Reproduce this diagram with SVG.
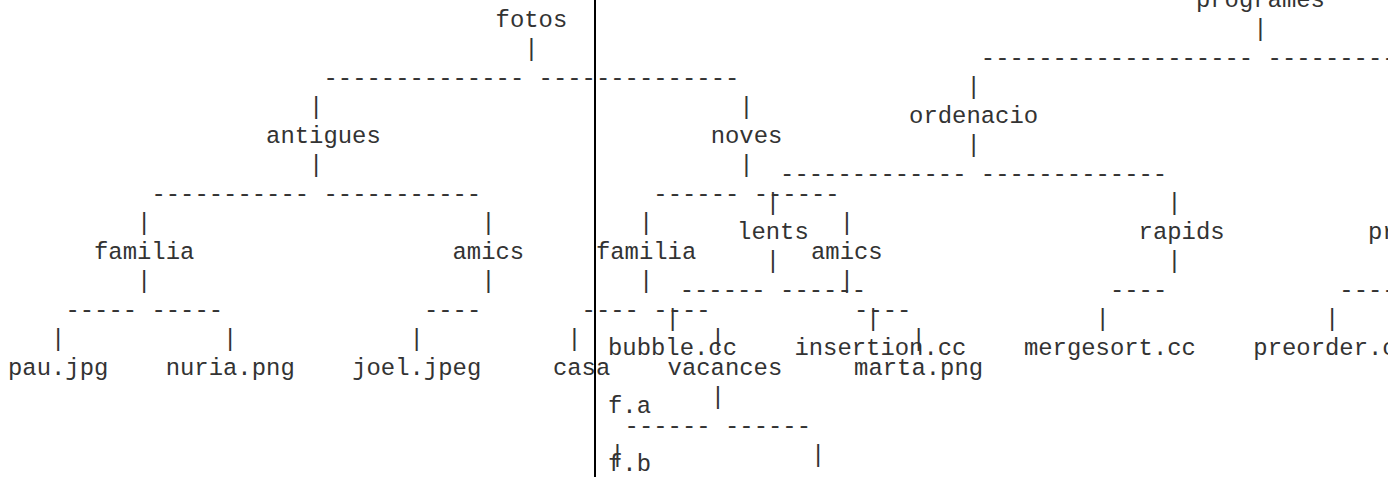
<svg xmlns="http://www.w3.org/2000/svg" width="1388" height="477" viewBox="0 0 1388 477">
<style>
text { font-family: "Liberation Mono", "Courier New", monospace; font-size: 23.9px; fill: #333333; }
</style>
<rect x="0" y="0" width="1388" height="477" fill="#ffffff"/>
<rect id="divider" x="594" y="0" width="2" height="477" fill="#000000"/>
<g id="connectors">
  <text x="524.2" y="56">|</text>
  <text x="323.5" y="85">--------------</text>
  <text x="538.6" y="85">--------------</text>
  <text x="309.1" y="114">|</text>
  <text x="739.3" y="114">|</text>
  <text x="309.1" y="172">|</text>
  <text x="739.3" y="172">|</text>
  <text x="151.4" y="201">-----------</text>
  <text x="323.5" y="201">-----------</text>
  <text x="653.3" y="201">------</text>
  <text x="753.7" y="201">------</text>
  <text x="137.1" y="230">|</text>
  <text x="481.2" y="230">|</text>
  <text x="639.0" y="230">|</text>
  <text x="839.7" y="230">|</text>
  <text x="137.1" y="288">|</text>
  <text x="481.2" y="288">|</text>
  <text x="639.0" y="288">|</text>
  <text x="839.7" y="288">|</text>
  <text x="65.4" y="317">-----</text>
  <text x="151.4" y="317">-----</text>
  <text x="423.9" y="317">----</text>
  <text x="581.6" y="317">----</text>
  <text x="653.3" y="317">----</text>
  <text x="854.1" y="317">----</text>
  <text x="51.0" y="346">|</text>
  <text x="223.1" y="346">|</text>
  <text x="409.5" y="346">|</text>
  <text x="567.3" y="346">|</text>
  <text x="710.7" y="346">|</text>
  <text x="911.4" y="346">|</text>
  <text x="710.7" y="404">|</text>
  <text x="624.6" y="433">------</text>
  <text x="725.0" y="433">------</text>
  <text x="610.3" y="462">|</text>
  <text x="811.0" y="462">|</text>
  <text x="1253.3" y="36">|</text>
  <text x="980.8" y="65">-------------------</text>
  <text x="1267.6" y="65">---------</text>
  <text x="966.5" y="94">|</text>
  <text x="966.5" y="152">|</text>
  <text x="780.1" y="181">-------------</text>
  <text x="980.8" y="181">-------------</text>
  <text x="765.7" y="210">|</text>
  <text x="1167.3" y="210">|</text>
  <text x="765.7" y="268">|</text>
  <text x="1167.3" y="268">|</text>
  <text x="679.7" y="297">------</text>
  <text x="780.1" y="297">------</text>
  <text x="1109.9" y="297">----</text>
  <text x="1339.3" y="297">----</text>
  <text x="665.4" y="326">|</text>
  <text x="866.1" y="326">|</text>
  <text x="1095.6" y="326">|</text>
  <text x="1325.0" y="326">|</text>
</g>
<g id="node-fotos"><text x="495.6" y="27">fotos</text></g>
<g id="node-antigues"><text x="266.1" y="143">antigues</text></g>
<g id="node-noves"><text x="710.7" y="143">noves</text></g>
<g id="node-antigues-familia"><text x="94.0" y="259">familia</text></g>
<g id="node-antigues-amics"><text x="452.5" y="259">amics</text></g>
<g id="node-noves-familia"><text x="595.9" y="259">familia</text></g>
<g id="node-noves-amics"><text x="811.0" y="259">amics</text></g>
<g id="node-pau"><text x="8" y="375">pau.jpg</text></g>
<g id="node-nuria"><text x="165.7" y="375">nuria.png</text></g>
<g id="node-joel"><text x="352.2" y="375">joel.jpeg</text></g>
<g id="node-casa"><text x="552.9" y="375">casa</text></g>
<g id="node-vacances"><text x="667.6" y="375">vacances</text></g>
<g id="node-marta"><text x="854.1" y="375">marta.png</text></g>
<g id="node-programes"><text x="1195.9" y="7">programes</text></g>
<g id="node-ordenacio"><text x="909.1" y="123">ordenacio</text></g>
<g id="node-lents"><text x="737.1" y="239">lents</text></g>
<g id="node-rapids"><text x="1138.6" y="239">rapids</text></g>
<g id="node-pr"><text x="1368.0" y="239">pr</text></g>
<g id="node-bubble"><text x="608" y="355">bubble.cc</text></g>
<g id="node-insertion"><text x="794.4" y="355">insertion.cc</text></g>
<g id="node-mergesort"><text x="1023.9" y="355">mergesort.cc</text></g>
<g id="node-preorder"><text x="1253.3" y="355">preorder.c</text></g>
<g id="node-fa"><text x="608" y="413">f.a</text></g>
<g id="node-fb"><text x="608" y="471">f.b</text></g>
</svg>
